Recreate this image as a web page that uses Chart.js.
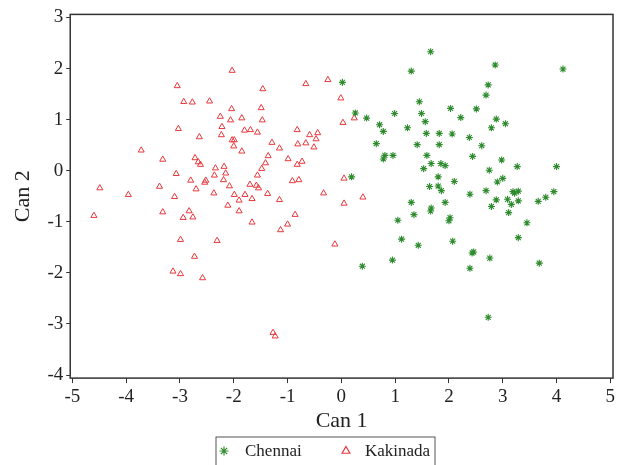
<!DOCTYPE html>
<html>
<head>
<meta charset="utf-8">
<script src="https://cdn.jsdelivr.net/npm/chart.js@4.4.1/dist/chart.umd.min.js"></script>
<style>
  html, body { margin: 0; padding: 0; background: #fff; }
  #wrap { width: 627px; height: 465px; }
</style>
</head>
<body>
<div id="wrap"><canvas id="chart"></canvas></div>
<script>
// canonical scores
const chennaiX = [1.66, 1.30, 0.02, 2.86, 4.12, 2.73, 2.69, 1.45, 0.26, 0.47, 0.99, 1.49, 2.03, 2.22, 2.51, 2.88, 3.05, 2.79, 0.71, 1.56, 0.78, 1.23, 1.58, 1.82, 2.06, 2.38, 0.65, 1.41, 1.82, 2.61, 0.81, 0.78, 0.96, 1.59, 2.44, 2.98, 1.53, 1.67, 1.85, 1.93, 3.27, 4.00, 2.75, 0.19, 1.80, 2.10, 1.64, 1.80, 1.86, 2.39, 1.30, 1.93, 1.67, 1.66, 1.35, 2.02, 2.00, 1.05, 1.12, 1.43, 2.07, 0.95, 0.39, 2.39, 2.43, 2.46, 2.90, 3.00, 2.69, 3.19, 3.22, 3.29, 3.95, 3.80, 3.66, 2.88, 3.09, 3.29, 2.79, 3.16, 3.11, 3.45, 3.29, 2.76, 3.68, 2.73];
const chennaiY = [2.33, 1.95, 1.73, 2.07, 1.99, 1.68, 1.48, 1.35, 1.13, 1.03, 1.12, 1.12, 1.22, 1.04, 1.21, 1.01, 0.92, 0.84, 0.90, 0.96, 0.77, 0.84, 0.73, 0.73, 0.72, 0.65, 0.53, 0.51, 0.51, 0.49, 0.30, 0.23, 0.30, 0.30, 0.28, 0.21, 0.04, 0.14, 0.14, 0.10, 0.08, 0.08, 0.01, -0.12, -0.12, -0.21, -0.31, -0.30, -0.39, -0.46, -0.62, -0.62, -0.73, -0.79, -0.86, -0.92, -0.98, -0.97, -1.34, -1.46, -1.38, -1.75, -1.87, -1.91, -1.61, -1.59, -0.22, -0.15, -0.39, -0.41, -0.44, -0.40, -0.41, -0.52, -0.60, -0.57, -0.56, -0.59, -0.70, -0.66, -0.82, -1.02, -1.31, -1.71, -1.81, -2.87];

const kakinadaX = [-3.05, -2.93, -2.77, -2.45, -2.25, -3.03, -2.64, -3.72, -3.32, -2.72, -2.66, -2.62, -2.34, -3.07, -2.36, -2.80, -2.52, -2.54, -2.03, -1.46, -0.66, -0.25, -0.01, -2.04, -1.49, 0.24, -2.06, -1.85, -1.47, 0.03, -2.22, -1.80, -1.69, -1.56, -0.82, -0.59, -0.44, -2.23, -2.03, -1.99, -0.47, -2.00, -1.29, -0.81, -0.66, -1.15, -0.51, -1.85, -1.36, -0.99, -1.41, -0.82, -0.73, -2.18, -1.48, -2.15, -1.56, -2.19, -0.91, -0.79, 0.05, -4.49, -3.96, -3.38, -3.10, -2.70, -2.37, -4.60, -3.32, -2.83, -2.94, -2.76, -2.99, -2.31, -2.73, -3.13, -2.99, -2.58, -2.08, -1.70, -1.58, -1.54, -1.99, -1.79, -1.37, -0.33, -1.90, -1.66, -1.15, -2.11, 0.05, -1.90, -0.86, -1.66, -1.00, -1.13, -0.12, -1.27, -1.23, 0.40];
const kakinadaY = [1.66, 1.35, 1.34, 1.36, 1.06, 0.82, 0.66, 0.40, 0.22, 0.25, 0.17, 0.12, 0.05, -0.06, -0.09, -0.19, -0.19, -0.23, 1.96, 1.60, 1.70, 1.78, 1.42, 1.21, 1.23, 1.03, 0.99, 1.03, 0.99, 0.94, 0.86, 0.79, 0.80, 0.75, 0.80, 0.70, 0.74, 0.70, 0.60, 0.60, 0.62, 0.48, 0.55, 0.52, 0.54, 0.44, 0.46, 0.38, 0.29, 0.23, 0.15, 0.12, 0.18, 0.08, 0.04, -0.05, -0.09, -0.18, -0.20, -0.18, -0.15, -0.34, -0.47, -0.31, -0.51, -0.36, -0.44, -0.88, -0.81, -0.79, -0.92, -0.91, -1.35, -1.37, -1.68, -1.97, -2.02, -2.10, -0.30, -0.27, -0.29, -0.34, -0.47, -0.47, -0.45, -0.44, -0.58, -0.55, -0.57, -0.68, -0.64, -0.79, -0.86, -1.01, -1.05, -1.16, -1.44, -3.17, -3.24, -0.52];

const xTicks = [-5, -4, -3, -2, -1, 0, 1, 2, 3, 4, 5];
const yTicks = [-4, -3, -2, -1, 0, 1, 2, 3];

const toPoints = (xs, ys) => xs.map((x, i) => ({ x: x, y: ys[i] }));

const serif = '"Liberation Serif", "Times New Roman", serif';
Chart.defaults.font.family = serif;
Chart.defaults.color = '#222';

// frame around plot area + boxed legend underneath
const framePlugin = {
    id: 'frame',
    afterDraw(chart) {
        const ctx = chart.ctx;
        const a = chart.chartArea;
        ctx.save();
        ctx.strokeStyle = '#333';
        ctx.lineWidth = 1.5;
        ctx.strokeRect(a.left, a.top, a.right - a.left, a.bottom - a.top);

        // legend
        const boxL = 216, boxT = 437, boxW = 219, boxH = 40, midY = 451;
        ctx.lineWidth = 1;
        ctx.strokeStyle = '#555';
        ctx.strokeRect(boxL, boxT, boxW, boxH);
        ctx.font = '17px ' + serif;
        ctx.fillStyle = '#222';
        ctx.textBaseline = 'middle';
        const items = [{ ds: 0, mx: 224, tx: 245 }, { ds: 1, mx: 346, tx: 365 }];
        items.forEach(it => {
            const d = chart.data.datasets[it.ds];
            ctx.strokeStyle = d.borderColor;
            ctx.fillStyle = d.backgroundColor;
            ctx.lineWidth = 1.2;
            Chart.helpers.drawPoint(ctx, { pointStyle: d.pointStyle, radius: 4.5, rotation: 0, borderWidth: 1.2 }, it.mx, midY);
            ctx.fillStyle = '#222';
            ctx.fillText(d.label, it.tx, midY + 1);
        });
        ctx.restore();
    }
};

const chart = document.querySelector('#chart').getContext('2d');
new Chart(chart, {
    type: 'scatter',
    data: {
        datasets: [
            {
                label: 'Chennai',
                data: toPoints(chennaiX, chennaiY),
                pointStyle: 'star',
                pointRadius: 3.5,
                borderColor: '#2e8b2e',
                backgroundColor: '#2e8b2e',
                borderWidth: 1.1
            },
            {
                label: 'Kakinada',
                data: toPoints(kakinadaX, kakinadaY),
                pointStyle: 'triangle',
                pointRadius: 3.5,
                borderColor: '#e8383d',
                backgroundColor: 'rgba(0,0,0,0)',
                borderWidth: 1
            }
        ]
    },
    options: {
        responsive: true,
        maintainAspectRatio: false,
        animation: false,
        layout: { padding: { top: 0, right: 14, left: 10, bottom: 33 } },
        plugins: {
            tooltip: { enabled: false },
            legend: { display: false }
        },
        scales: {
            x: {
                type: 'linear',
                min: -5.04,
                max: 5.05,
                afterBuildTicks: axis => { axis.ticks = xTicks.map(v => ({ value: v })); },
                grid: { drawOnChartArea: false, tickLength: 5, color: '#333' },
                border: { display: false },
                ticks: { font: { size: 19, lineHeight: 1.1 }, color: '#222', padding: 3, maxRotation: 0 },
                title: { display: true, text: 'Can 1', font: { size: 22, lineHeight: 1.0 }, color: '#222', padding: { top: 0, bottom: 0 } }
            },
            y: {
                type: 'linear',
                min: -4.06,
                max: 3.06,
                afterBuildTicks: axis => { axis.ticks = yTicks.map(v => ({ value: v })); },
                grid: { drawOnChartArea: false, tickLength: 4, color: '#333' },
                border: { display: false },
                ticks: { font: { size: 19 }, color: '#222', padding: 3 },
                title: { display: true, text: 'Can 2', font: { size: 22 }, color: '#222', padding: { top: 0, bottom: 8 } }
            }
        }
    },
    plugins: [framePlugin]
});
</script>
</body>
</html>
